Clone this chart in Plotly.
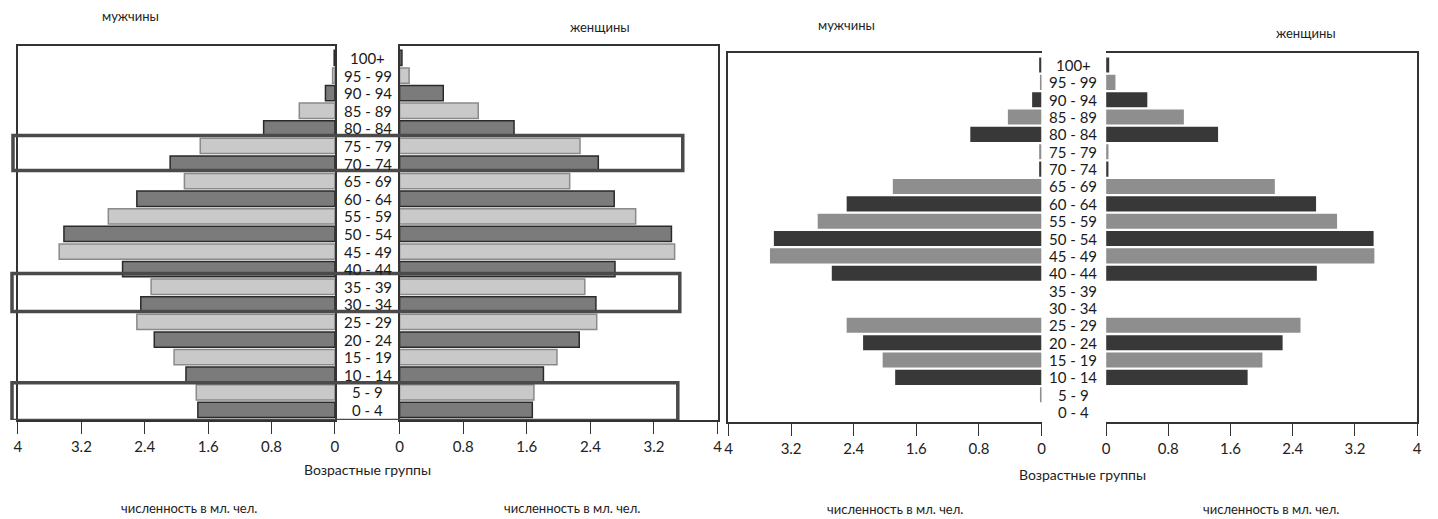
import plotly.graph_objects as go

# ---------------- data ----------------
age_groups = ["0 - 4", "5 - 9", "10 - 14", "15 - 19", "20 - 24", "25 - 29", "30 - 34",
              "35 - 39", "40 - 44", "45 - 49", "50 - 54", "55 - 59", "60 - 64", "65 - 69",
              "70 - 74", "75 - 79", "80 - 84", "85 - 89", "90 - 94", "95 - 99", "100+"]

male_1 = [1.73, 1.75, 1.88, 2.03, 2.28, 2.50, 2.45, 2.32, 2.68, 3.48, 3.42,
          2.86, 2.50, 1.90, 2.08, 1.70, 0.90, 0.45, 0.12, 0.03, 0.01]
female_1 = [1.67, 1.69, 1.81, 1.98, 2.26, 2.48, 2.47, 2.33, 2.71, 3.46, 3.42,
            2.97, 2.70, 2.14, 2.50, 2.27, 1.44, 0.99, 0.55, 0.12, 0.03]

male_2 = [0.0, 0.02, 1.87, 2.03, 2.28, 2.49, 0.0, 0.0, 2.68, 3.47, 3.42,
          2.86, 2.49, 1.90, 0.03, 0.03, 0.91, 0.43, 0.12, 0.02, 0.03]
female_2 = [0.0, 0.0, 1.82, 2.01, 2.27, 2.50, 0.0, 0.0, 2.71, 3.45, 3.44,
            2.97, 2.70, 2.17, 0.03, 0.03, 1.44, 1.00, 0.53, 0.12, 0.04]

x_ticks = [0, 0.8, 1.6, 2.4, 3.2, 4]
x_tick_text = ["0", "0.8", "1.6", "2.4", "3.2", "4"]

title_men = "мужчины"
title_women = "женщины"
axis_title = "Возрастные группы"
unit_title = "численность в мл. чел."

# ---------------- styling ----------------
W, H = 1438, 519
OFF = 8  # page body margin compensation
FONT = "Lato"
TXT = "#222222"
idx = list(range(len(age_groups)))

def px_x(p):
    return (p - OFF) / W

def px_y(p):
    return 1 - (p - OFF) / H

c1_dark, c1_light = "#7b7b7b", "#c9c9c9"
c1_dark_line, c1_light_line = "#2a2a2a", "#8a8a8a"
c2_dark, c2_light = "#383838", "#8e8e8e"

cols1 = [c1_dark if i % 2 == 0 else c1_light for i in idx]
lines1 = [c1_dark_line if i % 2 == 0 else c1_light_line for i in idx]
cols2 = [c2_dark if i % 2 == 0 else c2_light for i in idx]

fig = go.Figure()

fig.add_trace(go.Bar(x=male_1, y=idx, orientation="h", xaxis="x", yaxis="y",
                     marker=dict(color=cols1, line=dict(color=lines1, width=1.5)),
                     showlegend=False))
fig.add_trace(go.Bar(x=female_1, y=idx, orientation="h", xaxis="x2", yaxis="y2",
                     marker=dict(color=cols1, line=dict(color=lines1, width=1.5)),
                     showlegend=False))
fig.add_trace(go.Bar(x=male_2, y=idx, orientation="h", xaxis="x3", yaxis="y3",
                     marker=dict(color=cols2, line=dict(width=0)),
                     showlegend=False))
fig.add_trace(go.Bar(x=female_2, y=idx, orientation="h", xaxis="x4", yaxis="y4",
                     marker=dict(color=cols2, line=dict(width=0)),
                     showlegend=False))

yr1 = [-0.57, 20.68]
yr2 = [-0.57, 20.69]
ydom1 = [px_y(420), px_y(46)]
ydom2 = [px_y(422), px_y(53)]

xcommon = dict(tickmode="array", tickvals=x_ticks, ticktext=x_tick_text,
               ticks="outside", ticklen=12, tickwidth=1.3, tickcolor="#333",
               showline=True, linecolor="#333", linewidth=1.5,
               showgrid=False, zeroline=False,
               tickfont=dict(family=FONT, size=15, color=TXT), fixedrange=True)
ycommon = dict(showticklabels=False, ticks="", showgrid=False, zeroline=False,
               showline=True, linecolor="#333", linewidth=1.5, fixedrange=True)

fig.update_layout(
    width=W, height=H, margin=dict(l=0, r=0, t=0, b=0),
    paper_bgcolor="white", plot_bgcolor="white",
    bargap=0.13, showlegend=False,
    xaxis=dict(xcommon, domain=[px_x(14), px_x(333)], range=[4, 0], anchor="y", mirror=True),
    xaxis2=dict(xcommon, domain=[px_x(398), px_x(718)], range=[0, 4], anchor="y2", mirror=True),
    xaxis3=dict(xcommon, domain=[px_x(729), px_x(1044)], range=[4, 0], anchor="y3", mirror=True),
    xaxis4=dict(xcommon, domain=[px_x(1109), px_x(1422)], range=[0, 4], anchor="y4", mirror=True),
    yaxis=dict(ycommon, domain=ydom1, range=yr1, anchor="x", mirror=True),
    yaxis2=dict(ycommon, domain=ydom1, range=yr1, anchor="x2", mirror=True),
    yaxis3=dict(ycommon, domain=ydom2, range=yr2, anchor="x3", side="left"),
    yaxis4=dict(ycommon, domain=ydom2, range=yr2, anchor="x4", side="right"),
    font=dict(family=FONT, color=TXT),
)

ann = []
# age group labels in the centre columns
for i, g in enumerate(age_groups):
    ann.append(dict(x=px_x(366), y=i, xref="paper", yref="y", text=g, showarrow=False,
                    xanchor="center", yanchor="middle",
                    font=dict(family=FONT, size=15, color="#1a1a1a")))
    ann.append(dict(x=px_x(1076), y=i, xref="paper", yref="y3", text=g, showarrow=False,
                    xanchor="center", yanchor="middle",
                    font=dict(family=FONT, size=15, color="#1a1a1a")))

def txt(x, y, t, size=13):
    ann.append(dict(x=px_x(x), y=px_y(y), xref="paper", yref="paper", text=t,
                    xanchor="center", yanchor="middle",
                    showarrow=False, font=dict(family=FONT, size=size, color=TXT)))

txt(127, 16, title_men)
txt(600, 27, title_women)
txt(848, 25, title_men)
txt(1310, 33, title_women)
txt(366, 469, axis_title, 14)
txt(1085, 474, axis_title, 14)
txt(186, 508, unit_title)
txt(572, 508, unit_title)
txt(897, 509, unit_title)
txt(1275, 509, unit_title)

fig.update_layout(annotations=ann)

# highlight rectangles on the left chart
rects = [(9, 683, 13.6, 15.6), (8, 680, 5.6, 7.75), (8, 678, -0.6, 1.55)]
for x0, x1, y0, y1 in rects:
    fig.add_shape(type="rect", xref="paper", yref="y", x0=px_x(x0), x1=px_x(x1),
                  y0=y0, y1=y1, line=dict(color="#4a4a4a", width=3.5),
                  fillcolor="rgba(0,0,0,0)", layer="above")

fig.write_html("out.html")
